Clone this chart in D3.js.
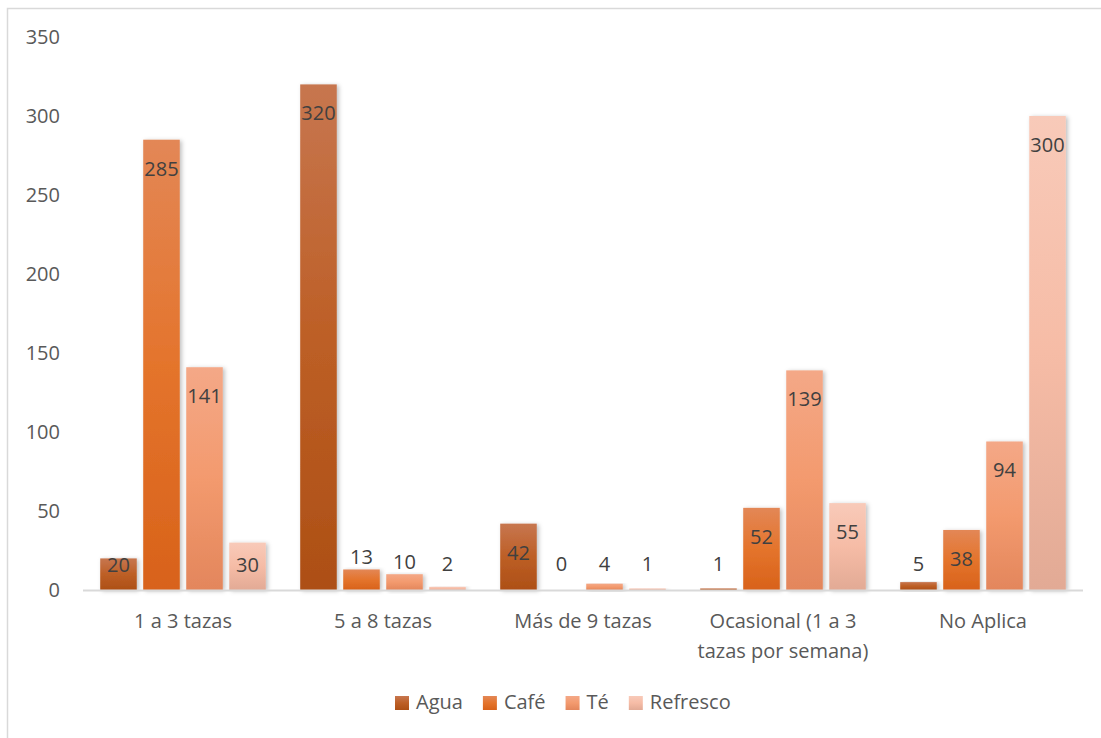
<!DOCTYPE html>
<html>
<head>
<meta charset="utf-8">
<script src="https://cdn.jsdelivr.net/npm/d3@7"></script>
<style>
  body { margin: 0; background: #fff; }
  text { font-family: "Open Sans", sans-serif; }
</style>
</head>
<body>
<div id="chart"></div>
<script>
// data
var categories = ["1 a 3 tazas", "5 a 8 tazas", "Más de 9 tazas", "Ocasional (1 a 3 tazas por semana)", "No Aplica"];
var series = ["Agua", "Café", "Té", "Refresco"];
var agua = [20, 320, 42, 1, 5];
var cafe = [285, 13, 0, 52, 38];
var te = [141, 10, 4, 139, 94];
var refresco = [30, 2, 1, 55, 300];
var yTicks = [0, 50, 100, 150, 200, 250, 300, 350];

var values = [agua, cafe, te, refresco];

// gradient stops per series (top, middle, bottom)
var colors = [
    ["#c7764f", "#bd5f26", "#ad4f15"],
    ["#e38756", "#e4742c", "#d8621a"],
    ["#f4a887", "#f39a6e", "#e3865c"],
    ["#f8cab9", "#f6bca6", "#e2aa95"]
];

var W = 1101, H = 738;
var margin = {top: 37, left: 83, right: 18, bottom: 148};
var width = W - margin.left - margin.right;
var height = H - margin.top - margin.bottom;

var svg = d3.select("#chart").append("svg")
    .attr("width", W)
    .attr("height", H);

var defs = svg.append("defs");
colors.forEach(function(c, i) {
    var g = defs.append("linearGradient")
        .attr("id", "grad" + i)
        .attr("x1", 0).attr("y1", 0).attr("x2", 0).attr("y2", 1);
    g.append("stop").attr("offset", "0%").attr("stop-color", c[0]);
    g.append("stop").attr("offset", "50%").attr("stop-color", c[1]);
    g.append("stop").attr("offset", "100%").attr("stop-color", c[2]);
});
var shadow = defs.append("filter").attr("id", "shadow")
    .attr("x", "-30%").attr("y", "-10%").attr("width", "160%").attr("height", "130%");
shadow.append("feDropShadow")
    .attr("dx", 2).attr("dy", 1).attr("stdDeviation", 2)
    .attr("flood-color", "#000").attr("flood-opacity", 0.25);

// chart border
svg.append("rect")
    .attr("x", 7.5).attr("y", 8.5)
    .attr("width", 1300).attr("height", 1000)
    .attr("fill", "none")
    .attr("stroke", "#d9d9d9")
    .attr("stroke-width", 1.5);

var chart = svg.append("g")
    .attr("transform", "translate(" + margin.left + "," + margin.top + ")");

var x0 = d3.scaleBand()
    .domain(categories)
    .range([0, width]);

var x1 = d3.scaleBand()
    .domain(series)
    .range([0, x0.bandwidth()])
    .paddingInner(0.15)
    .paddingOuter(0.4);

var y = d3.scaleLinear()
    .domain([0, 350])
    .range([height, 0]);

// y axis labels
var yAxis = chart.append("g")
    .attr("class", "y-axis")
    .call(d3.axisLeft(y).tickValues(yTicks).tickSize(0).tickPadding(23));
yAxis.select(".domain").remove();
yAxis.selectAll("text")
    .style("font-family", "'Open Sans', sans-serif")
    .style("font-size", "20px")
    .attr("fill", "#595959");

// bars
var groups = chart.selectAll(".group")
    .data(categories)
    .enter()
    .append("g")
    .attr("class", "group")
    .attr("transform", function(d) {
        return "translate(" + x0(d) + ",0)";
    });

var barData = function(cat, ci) {
    return series.map(function(s, si) {
        return {series: s, si: si, value: values[si][ci]};
    });
};

groups.selectAll("rect")
    .data(function(d, ci) { return barData(d, ci); })
    .enter()
    .append("rect")
    .attr("x", function(d) { return x1(d.series); })
    .attr("y", function(d) { return y(d.value); })
    .attr("width", x1.bandwidth())
    .attr("height", function(d) { return height - y(d.value); })
    .attr("fill", function(d) { return "url(#grad" + d.si + ")"; })
    .attr("filter", "url(#shadow)");

// x axis line
chart.append("line")
    .attr("x1", 0).attr("x2", width)
    .attr("y1", height + 0.5).attr("y2", height + 0.5)
    .attr("stroke", "#d9d9d9")
    .attr("stroke-width", 2);

// data labels
groups.selectAll(".label")
    .data(function(d, ci) { return barData(d, ci); })
    .enter()
    .append("text")
    .attr("class", "label")
    .attr("x", function(d) { return x1(d.series) + x1.bandwidth() / 2; })
    .attr("y", function(d) {
        var top = y(d.value);
        if (height - top >= 24) {
            return Math.min(top + 36, height - 18);
        }
        return Math.min(top - 5, height - 19);
    })
    .attr("text-anchor", "middle")
    .style("font-size", "20px")
    .attr("fill", "#404040")
    .text(function(d) { return d.value; });

// category labels (wrapped like the original)
var catLines = {
    "Ocasional (1 a 3 tazas por semana)": ["Ocasional (1 a 3", "tazas por semana)"]
};
chart.selectAll(".cat")
    .data(categories)
    .enter()
    .append("text")
    .attr("class", "cat")
    .attr("text-anchor", "middle")
    .attr("x", function(d) { return x0(d) + x0.bandwidth() / 2; })
    .attr("y", height + 38)
    .style("font-size", "20px")
    .attr("fill", "#595959")
    .each(function(d) {
        var lines = catLines[d] || [d];
        var t = d3.select(this);
        lines.forEach(function(l, i) {
            t.append("tspan")
                .attr("x", x0(d) + x0.bandwidth() / 2)
                .attr("dy", i === 0 ? 0 : 30)
                .text(l);
        });
    });

// legend
var legend = svg.append("g").attr("class", "legend");
var lx = 395;
series.forEach(function(s, i) {
    var item = legend.append("g").attr("transform", "translate(" + lx + ",696)");
    item.append("rect")
        .attr("width", 14).attr("height", 14)
        .attr("fill", "url(#grad" + i + ")");
    var t = item.append("text")
        .attr("x", 21).attr("y", 13)
        .style("font-size", "20px")
        .attr("fill", "#595959")
        .text(s);
    lx += 21 + t.node().getComputedTextLength() + 20;
});
</script>
</body>
</html>
